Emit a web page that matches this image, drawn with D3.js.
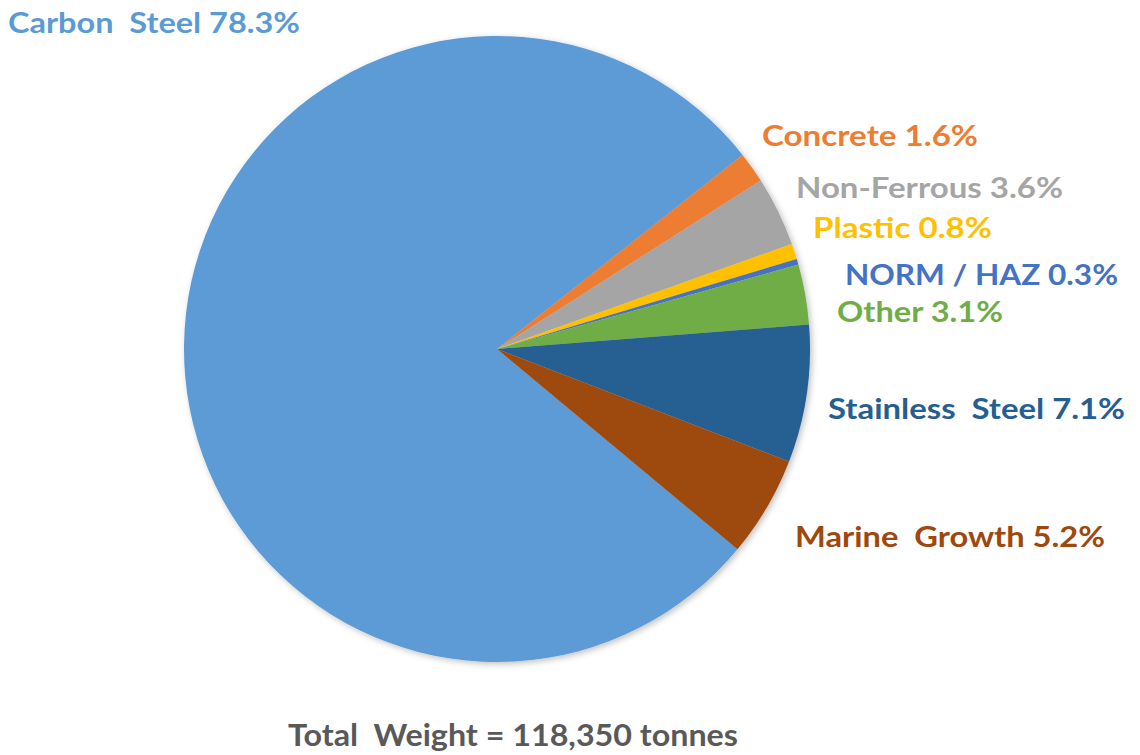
<!DOCTYPE html>
<html>
<head>
<meta charset="utf-8">
<script src="https://cdn.jsdelivr.net/npm/d3@7/dist/d3.min.js"></script>
<style>
  html, body { margin: 0; padding: 0; background: #fff; }
  svg { display: block; }
</style>
</head>
<body>
<svg id="chart" width="1140" height="755"></svg>
<script>
// ---- data ----
const categories = ["Carbon  Steel", "Concrete", "Non-Ferrous", "Plastic", "NORM / HAZ", "Other", "Stainless  Steel", "Marine  Growth"];
const shares = [78.3, 1.6, 3.6, 0.8, 0.3, 3.1, 7.1, 5.2];
const colors = ["#5B9BD5", "#ED7D31", "#A5A5A5", "#FFC000", "#4472C4", "#70AD47", "#255E91", "#9E480E"];
const totalLabel = "Total  Weight = 118,350 tonnes";

// ---- layout ----
const W = 1140, H = 755;
const cx = 497, cy = 349, R = 313;
const firstSliceAngle = 129.8; // degrees, clockwise from 12 o'clock
// manual label placement: [left x, baseline y, right x]
const labelLayout = [
  [8, 33, 300],
  [762, 146, 978],
  [796, 198, 1063],
  [813, 238, 992],
  [845, 285, 1118],
  [837, 322, 1003],
  [828, 419, 1125],
  [795, 547, 1105]
];

const svg = d3.select("#chart");
const defs = svg.append("defs");
const f = defs.append("filter").attr("id", "shadow")
  .attr("x", "-10%").attr("y", "-10%").attr("width", "120%").attr("height", "120%");
f.append("feDropShadow").attr("dx", 2).attr("dy", 2).attr("stdDeviation", 3)
  .attr("flood-color", "#000").attr("flood-opacity", 0.25);

const rad = firstSliceAngle * Math.PI / 180;
const pie = d3.pie().sort(null).value(d => d.v)
  .startAngle(rad).endAngle(rad + 2 * Math.PI);
const arc = d3.arc().innerRadius(0).outerRadius(R);

const data = categories.map((c, i) => ({ c, v: shares[i], col: colors[i] }));
const arcs = pie(data);

const g = svg.append("g").attr("transform", `translate(${cx},${cy})`).attr("filter", "url(#shadow)");
g.selectAll("path").data(arcs).enter().append("path")
  .attr("d", arc)
  .attr("fill", d => d.data.col);

const fmt = d3.format(".1f");
svg.append("g").selectAll("text").data(arcs).enter().append("text")
  .attr("x", (d, i) => labelLayout[i][0])
  .attr("y", (d, i) => labelLayout[i][1])
  .attr("textLength", (d, i) => labelLayout[i][2] - labelLayout[i][0])
  .attr("lengthAdjust", "spacingAndGlyphs")
  .attr("fill", d => d.data.col)
  .style("font-family", "Lato, 'Open Sans', sans-serif")
  .style("font-weight", "bold")
  .style("font-size", "28px")
  .style("white-space", "pre")
  .attr("xml:space", "preserve")
  .text(d => `${d.data.c} ${fmt(d.data.v)}%`);

svg.append("text")
  .attr("x", 288).attr("y", 746)
  .attr("textLength", 450).attr("lengthAdjust", "spacingAndGlyphs")
  .attr("fill", "#595959")
  .attr("xml:space", "preserve")
  .style("font-family", "Lato, 'Open Sans', sans-serif")
  .style("font-weight", "bold")
  .style("font-size", "30px")
  .style("white-space", "pre")
  .text(totalLabel);
</script>
</body>
</html>
